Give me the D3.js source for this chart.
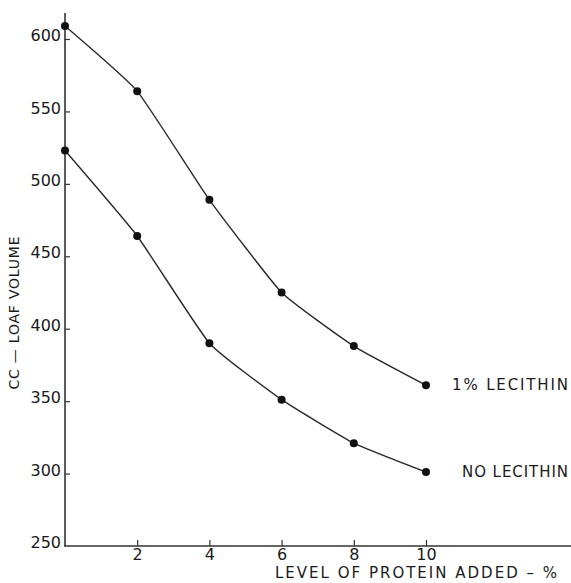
<!DOCTYPE html>
<html>
<head>
<meta charset="utf-8">
<script src="https://cdn.jsdelivr.net/npm/d3@7"></script>
<style>
  body { margin: 0; background: #fff; }
  text { font-family: "DejaVu Sans", sans-serif; fill: #1a1a1a; }
</style>
</head>
<body>
<svg width="571" height="583"></svg>
<script>
var level = [0, 2, 4, 6, 8, 10],
    withLecithin = [609, 564, 489, 425, 388, 361],
    noLecithin = [523, 464, 390, 351, 321, 301],
    xTicks = [2, 4, 6, 8, 10],
    yTicks = [250, 300, 350, 400, 450, 500, 550, 600],
    seriesNames = ['1% LECITHIN', 'NO LECITHIN'];

var svg = d3.select('svg');

var x = d3.scaleLinear().domain([0, 10]).range([65, 426]);
var y = d3.scaleLinear().domain([250, 600]).range([546, 39]);

// y axis
var yAxis = d3.axisLeft(y)
    .tickValues(yTicks)
    .tickSize(-5)
    .tickSizeOuter(0)
    .tickPadding(4);

var gy = svg.append('g')
    .attr('transform', 'translate(' + x(0) + ',0)')
    .call(yAxis);
gy.select('.domain').remove();
gy.selectAll('.tick').filter(d => d === 250).select('line').remove();
gy.selectAll('.tick text')
    .attr('dy', '0.1em')
    .style('font-size', '16px')
    .style('font-family', '"DejaVu Sans", sans-serif')
    .attr('fill', '#1a1a1a');
gy.selectAll('.tick line').attr('stroke', '#333').attr('stroke-width', 1.2);
gy.append('line')
    .attr('x1', 0).attr('x2', 0)
    .attr('y1', y(250)).attr('y2', 13)
    .attr('stroke', '#333').attr('stroke-width', 1.6);

// x axis
var xAxis = d3.axisBottom(x)
    .tickValues(xTicks)
    .tickSize(-6)
    .tickSizeOuter(0)
    .tickPadding(3);

var gx = svg.append('g')
    .attr('transform', 'translate(0,' + y(250) + ')')
    .call(xAxis);
gx.select('.domain').remove();
gx.selectAll('.tick text')
    .style('font-size', '16px')
    .style('font-family', '"DejaVu Sans", sans-serif')
    .attr('fill', '#1a1a1a');
gx.selectAll('.tick line').attr('stroke', '#333').attr('stroke-width', 1.2);
gx.append('line')
    .attr('x1', x(0) - 1).attr('x2', 571)
    .attr('y1', 0).attr('y2', 0)
    .attr('stroke', '#333').attr('stroke-width', 1.6);

// axis titles
svg.append('text')
    .attr('transform', 'translate(19,313) rotate(-90)')
    .attr('text-anchor', 'middle')
    .attr('textLength', 153)
    .attr('lengthAdjust', 'spacing')
    .style('font-size', '14px')
    .text('CC \u2014 LOAF VOLUME');

svg.append('text')
    .attr('x', 275)
    .attr('y', 578)
    .attr('textLength', 282)
    .attr('lengthAdjust', 'spacing')
    .style('font-size', '15px')
    .text('LEVEL OF PROTEIN ADDED \u2013 %');

// series
var line = d3.line()
    .x((d, i) => x(level[i]))
    .y(d => y(d))
    .curve(d3.curveCardinal.tension(0.6));

[withLecithin, noLecithin].forEach((vals, k) => {
    svg.append('path')
        .datum(vals)
        .attr('d', line)
        .attr('fill', 'none')
        .attr('stroke', '#2a2a2a')
        .attr('stroke-width', 1.4);

    svg.selectAll('.dot' + k)
        .data(vals)
        .enter()
        .append('circle')
        .attr('cx', (d, i) => x(level[i]))
        .attr('cy', d => y(d))
        .attr('r', 4)
        .attr('fill', '#111');

    var last = vals[vals.length - 1];
    svg.append('text')
        .attr('x', 568)
        .attr('y', y(last) + 5)
        .attr('text-anchor', 'end')
        .style('font-size', '15px')
        .attr('textLength', k === 0 ? 116 : 106)
        .attr('lengthAdjust', 'spacing')
        .text(seriesNames[k]);
});
</script>
</body>
</html>
